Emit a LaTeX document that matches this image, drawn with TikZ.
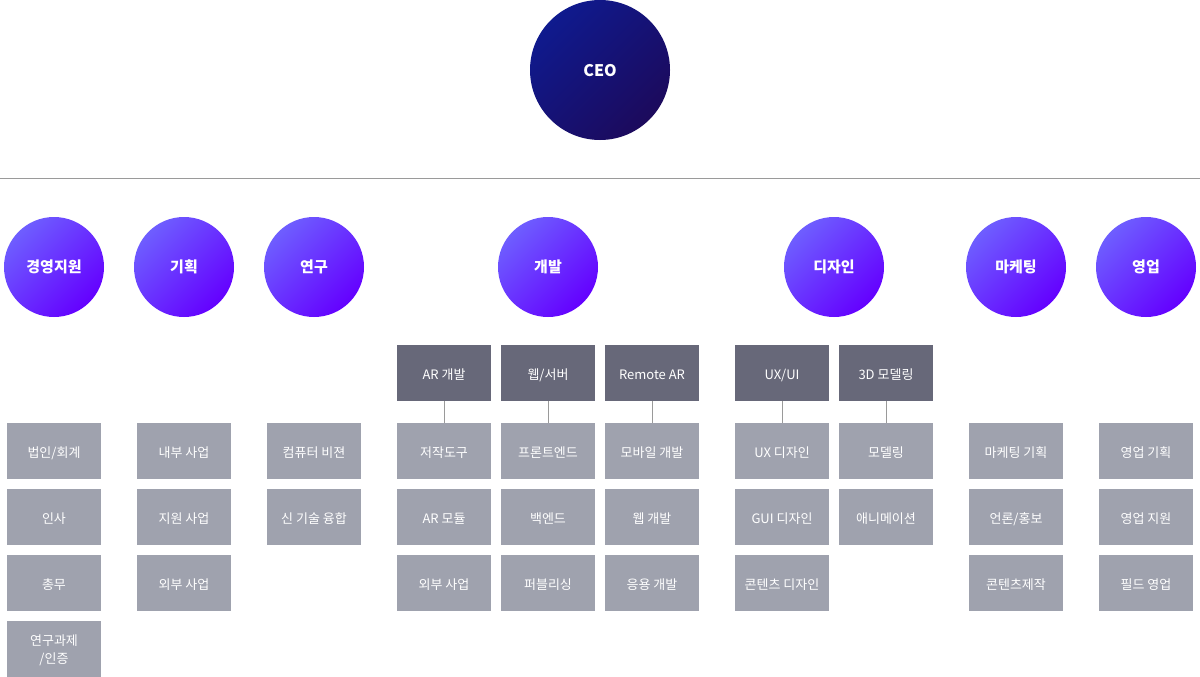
\documentclass[tikz,border=0pt]{standalone}
\usepackage{fontspec}
\setmainfont{Noto Sans CJK KR}
\definecolor{ceoTop}{HTML}{0F1A8E}
\definecolor{ceoBottom}{HTML}{1C0A5C}
\definecolor{deptTop}{HTML}{6E5EFF}
\definecolor{deptBottom}{HTML}{6400FF}
\definecolor{teamGray}{HTML}{676879}
\definecolor{partGray}{HTML}{9FA2AE}
\definecolor{lineGray}{HTML}{9A9A9A}
\tikzset{
    ceo/.style={circle, minimum size=140pt, inner sep=0pt, top color=ceoTop, bottom color=ceoBottom, shading angle=45, text=white, text height=1.4em, text depth=0pt, font=\fontsize{16}{18}\selectfont\bfseries},
    dept/.style={circle, minimum size=100pt, inner sep=0pt, top color=deptTop, bottom color=deptBottom, shading angle=45, text=white, text height=1.15em, text depth=0pt, font=\fontsize{15}{17}\selectfont\bfseries},
    team/.style={rectangle, minimum width=94pt, minimum height=56pt, inner sep=0pt, fill=teamGray, text=white, align=center, text height=1.2em, text depth=0pt, font=\fontsize{13}{18}\selectfont},
    part/.style={team, fill=partGray},
    link/.style={draw=lineGray, line width=1pt}
}
\begin{document}
\begin{tikzpicture}[x=1pt, y=-1pt]
    \useasboundingbox (0,0) rectangle (1200,677);
    \node[ceo] (ceo) at (600,70) {CEO};
    \draw[link] (0,178) -- (1200,178);
    % departments
    \node[dept] (admin) at (54,267) {경영지원};
    \node[dept] (plan) at (184,267) {기획};
    \node[dept] (lab) at (314,267) {연구};
    \node[dept] (dev) at (548,267) {개발};
    \node[dept] (design) at (834,267) {디자인};
    \node[dept] (mkt) at (1016,267) {마케팅};
    \node[dept] (sales) at (1146,267) {영업};
    % teams
    \node[team] (ar) at (444,373) {AR 개발};
    \node[team] (web) at (548,373) {웹/서버};
    \node[team] (remote) at (652,373) {Remote AR};
    \node[team] (uxui) at (782,373) {UX/UI};
    \node[team] (model) at (886,373) {3D 모델링};
    % parts
    \node[part] (admin1) at (54,451) {법인/회계};
    \node[part] (admin2) at (54,517) {인사};
    \node[part] (admin3) at (54,583) {총무};
    \node[part, text height=2.8em] (admin4) at (54,649) {연구과제\\/인증};
    \node[part] (plan1) at (184,451) {내부 사업};
    \node[part] (plan2) at (184,517) {지원 사업};
    \node[part] (plan3) at (184,583) {외부 사업};
    \node[part] (lab1) at (314,451) {컴퓨터 비젼};
    \node[part] (lab2) at (314,517) {신 기술 융합};
    \node[part] (ar1) at (444,451) {저작도구};
    \node[part] (ar2) at (444,517) {AR 모듈};
    \node[part] (ar3) at (444,583) {외부 사업};
    \node[part] (web1) at (548,451) {프론트엔드};
    \node[part] (web2) at (548,517) {백엔드};
    \node[part] (web3) at (548,583) {퍼블리싱};
    \node[part] (remote1) at (652,451) {모바일 개발};
    \node[part] (remote2) at (652,517) {웹 개발};
    \node[part] (remote3) at (652,583) {응용 개발};
    \node[part] (uxui1) at (782,451) {UX 디자인};
    \node[part] (uxui2) at (782,517) {GUI 디자인};
    \node[part] (uxui3) at (782,583) {콘텐츠 디자인};
    \node[part] (model1) at (886,451) {모델링};
    \node[part] (model2) at (886,517) {애니메이션};
    \node[part] (mkt1) at (1016,451) {마케팅 기획};
    \node[part] (mkt2) at (1016,517) {언론/홍보};
    \node[part] (mkt3) at (1016,583) {콘텐츠제작};
    \node[part] (sales1) at (1146,451) {영업 기획};
    \node[part] (sales2) at (1146,517) {영업 지원};
    \node[part] (sales3) at (1146,583) {필드 영업};
    % team links
    \draw[link] (ar.south) -- (ar1.north);
    \draw[link] (web.south) -- (web1.north);
    \draw[link] (remote.south) -- (remote1.north);
    \draw[link] (uxui.south) -- (uxui1.north);
    \draw[link] (model.south) -- (model1.north);
\end{tikzpicture}
\end{document}
